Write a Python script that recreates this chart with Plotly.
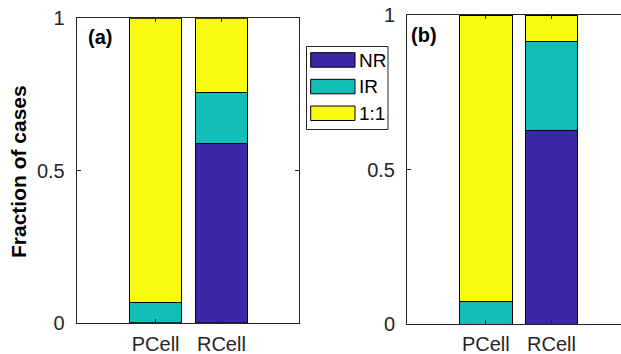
import plotly.graph_objects as go

W, H = 621, 354

categories = ["PCell", "RCell"]
series_names = ["NR", "IR", "1:1"]
colors = ["#3E26A8", "#13BEB8", "#F9FB0E"]

# panel (a)
a_NR = [0.0, 0.59]
a_IR = [0.067, 0.167]
a_11 = [0.933, 0.243]
# panel (b)
b_NR = [0.0, 0.627]
b_IR = [0.072, 0.287]
b_11 = [0.928, 0.086]

y_ticks = [0, 0.5, 1]
y_ticklabels = ["0", "0.5", "1"]

def px(x):
    return x / W

def py(y):
    return 1 - y / H

FONT = "Liberation Sans, Arial, Helvetica, sans-serif"
AX = "#262626"

fig = go.Figure()
for vals, xa, ya in [((a_NR, a_IR, a_11), "x", "y"), ((b_NR, b_IR, b_11), "x2", "y2")]:
    for name, v, c in zip(series_names, vals, colors):
        fig.add_trace(go.Bar(
            x=categories, y=v, name=name, width=0.8,
            marker=dict(color=c, line=dict(color="#000000", width=1)),
            xaxis=xa, yaxis=ya, showlegend=False,
        ))

common_x = dict(
    type="category", showline=True, linecolor=AX, linewidth=1,
    ticks="inside", ticklen=4, tickcolor=AX, mirror="ticks",
    showgrid=False, zeroline=False, automargin=False,
    tickfont=dict(family=FONT, size=20, color=AX),
    fixedrange=True,
)
common_y = dict(
    range=[0, 1], tickvals=y_ticks, ticktext=y_ticklabels,
    showline=True, linecolor=AX, linewidth=1,
    ticks="inside", ticklen=4, tickcolor=AX,
    showgrid=False, zeroline=False, automargin=False,
    tickfont=dict(family=FONT, size=20, color=AX),
    ticklabelstandoff=7, fixedrange=True,
)

fig.update_layout(
    width=W, height=H,
    margin=dict(l=0, r=0, t=0, b=0, autoexpand=False),
    paper_bgcolor="white", plot_bgcolor="white",
    barmode="stack",
    showlegend=False,
    xaxis=dict(common_x, domain=[px(76.7), px(299)], range=[-1.2, 2.18], anchor="y", ticklabelstandoff=3),
    yaxis=dict(common_y, domain=[py(322.7), py(18.3)], anchor="x", mirror="ticks"),
    xaxis2=dict(common_x, domain=[px(407), 1.0], range=[-1.2, 2.057], anchor="y2", ticklabelstandoff=2),
    yaxis2=dict(common_y, domain=[py(324), py(15)], anchor="x2", mirror=False),
)

annotations = [
    dict(text="<b>Fraction of cases</b>", x=px(18), y=py(172), xref="paper", yref="paper",
         textangle=-90, showarrow=False, font=dict(family=FONT, size=21, color="#000000"),
         xanchor="center", yanchor="middle"),
    dict(text="<b>(a)</b>", x=px(100), y=py(37), xref="paper", yref="paper",
         showarrow=False, font=dict(family=FONT, size=20, color="#000000"),
         xanchor="center", yanchor="middle"),
    dict(text="<b>(b)</b>", x=px(424), y=py(35), xref="paper", yref="paper",
         showarrow=False, font=dict(family=FONT, size=20, color="#000000"),
         xanchor="center", yanchor="middle"),
]

shapes = [
    dict(type="rect", xref="paper", yref="paper", x0=px(306.5), x1=px(388), y0=py(129.5), y1=py(46.5),
         line=dict(color=AX, width=1), fillcolor="white", layer="above"),
]
sw_tops = [52.7, 79.3, 106]
for name, c, t in zip(series_names, colors, sw_tops):
    shapes.append(dict(type="rect", xref="paper", yref="paper", x0=px(310.7), x1=px(355),
                       y0=py(t + 14.5), y1=py(t), line=dict(color="#000000", width=1),
                       fillcolor=c, layer="above"))
    annotations.append(dict(text=name, x=px(357), y=py(t + 7.3), xref="paper", yref="paper",
                            showarrow=False, xanchor="left", yanchor="middle",
                            font=dict(family=FONT, size=19, color="#000000")))

fig.update_layout(annotations=annotations, shapes=shapes)

fig.write_html(
    "out.html",
    config={"displayModeBar": False},
    post_script="document.body.style.margin='0';document.body.style.padding='0';document.body.style.overflow='hidden';",
)
